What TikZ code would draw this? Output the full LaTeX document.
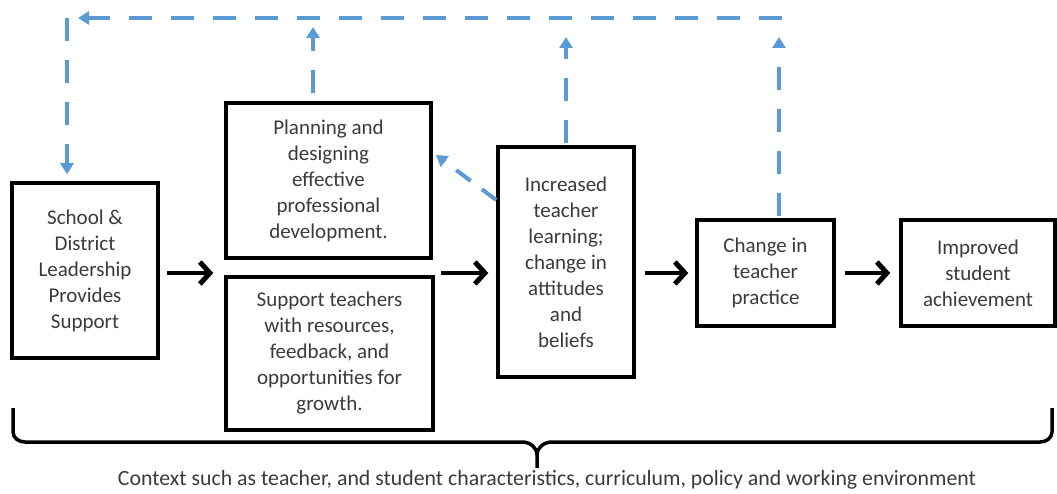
\documentclass[tikz,border=0pt]{standalone}
\usepackage{fontspec}
\setmainfont{Carlito}
\usetikzlibrary{arrows.meta,calc}
\definecolor{txt}{HTML}{3A3A3A}
\definecolor{fb}{HTML}{5B9BD5}
\tikzset{
  box/.style={draw=black,line width=3.5pt,align=center,text=txt,inner sep=0pt,
    font=\fontsize{21}{26}\selectfont},
  flow/.style={line width=4.5pt,-{Straight Barb[length=10pt,width=22pt,line width=5pt]}},
  fbline/.style={draw=fb,line width=4pt,dash pattern=on 23pt off 19pt},
  fbarrow/.style={fbline,-{Triangle[length=11pt,width=13pt]}},
}
\begin{document}
\begin{tikzpicture}[x=1pt,y=-1pt]
\useasboundingbox (0,0) rectangle (1057,494);
% boxes (corner coordinates in pixels)
\node[box,minimum width=146pt,minimum height=175pt] (school) at (85,270.5)
  {School \&\\District\\Leadership\\Provides\\Support};
\node[box,minimum width=205pt,minimum height=155pt] (plan) at (328.5,180.5)
  {Planning and\\designing\\effective\\professional\\development.};
\node[box,minimum width=207pt,minimum height=153pt] (supp) at (329.5,353.5)
  {Support teachers\\with resources,\\feedback, and\\opportunities for\\growth.};
\node[box,minimum width=136pt,minimum height=230pt] (inc) at (566,262)
  {Increased\\teacher\\learning;\\change in\\attitudes\\and\\beliefs};
\node[box,minimum width=137pt,minimum height=106pt] (chg) at (765.5,273)
  {Change in\\teacher\\practice};
\node[box,minimum width=154pt,minimum height=106pt] (imp) at (978,273)
  {Improved\\student\\achievement};
% black flow arrows
\coordinate (row) at (0,273);
\draw[flow] ([xshift=7pt]school.east |- row) -- ([xshift=-11pt]supp.west |- row);
\draw[flow] ([xshift=6pt]supp.east |- row) -- ([xshift=-8pt]inc.west |- row);
\draw[flow] ([xshift=9pt]inc.east |- row) -- ([xshift=-7pt]chg.west |- row);
\draw[flow] ([xshift=9pt]chg.east |- row) -- ([xshift=-9pt]imp.west |- row);
% feedback
\coordinate (topR) at (782,18);
\coordinate (topL) at (67,18);
\draw[fbline] (topR) -- (78,18);
\draw[fb,line width=4pt,-{Triangle[length=11pt,width=13pt]}] (90,18) -- (78,18);
\draw[fbarrow] (topL) -- ([yshift=7pt]school.north -| topL);
\draw[fbarrow] ([xshift=-15.5pt,yshift=8pt]plan.north) -- (313,27);
\draw[fbarrow] ([yshift=2pt]inc.north) -- (566,37);
\draw[fbarrow] ([xshift=13.5pt,yshift=2pt]chg.north) -- (779,37);
\draw[fbline,dash pattern=on 18pt off 14pt,-{Triangle[length=11pt,width=13pt]}] (inc.west |- 0,200) -- (436,155);
% brace
\draw[line width=3.5pt,line join=round] (13,408) -- (13,432) to[out=-90,in=180] (25,442)
  -- (522,442) to[out=0,in=90] (537,455) -- (537,468);
\draw[line width=3.5pt,line join=round] (1052,408) -- (1052,432) to[out=-90,in=0] (1040,442)
  -- (552,442) to[out=180,in=90] (537,455);
\node[text=txt,font=\fontsize{21.8}{24}\selectfont,inner sep=0pt] (ctx) at (547,480)
  {Context such as teacher, and student characteristics, curriculum, policy and working environment};
\end{tikzpicture}
\end{document}
